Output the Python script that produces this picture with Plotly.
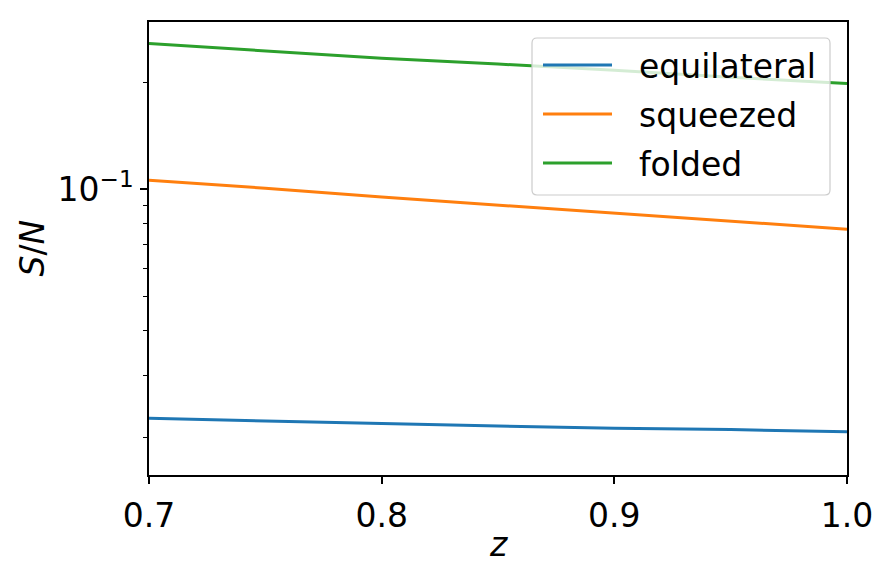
import plotly.graph_objects as go
import math

z = [0.70, 0.75, 0.80, 0.85, 0.90, 0.95, 1.00]
equilateral = [0.0227, 0.0223, 0.0219, 0.0216, 0.0213, 0.0211, 0.0208]
squeezed = [0.1060, 0.1006, 0.0950, 0.0902, 0.0856, 0.0812, 0.0772]
folded = [0.2566, 0.2442, 0.2335, 0.2248, 0.2160, 0.2064, 0.1980]

names = ["equilateral", "squeezed", "folded"]
colors = ["#1f77b4", "#ff7f0e", "#2ca02c"]
series = [equilateral, squeezed, folded]

x_ticks = [0.7, 0.8, 0.9, 1.0]
x_ticktext = ["0.7", "0.8", "0.9", "1.0"]
y_major = [0.1]
y_major_text = ["10<sup>\u22121</sup>"]
y_minor = [0.02, 0.03, 0.04, 0.05, 0.06, 0.07, 0.08, 0.09, 0.2]

FONT = "DejaVu Sans"
FS = 33
W, H = 889, 578
L, R, T, B = 149, 42, 22, 103
pw, ph = W - L - R, H - T - B

def px(xp):
    return (xp - L) / pw

def py(yp):
    return (H - B - yp) / ph

fig = go.Figure()
for name, col, vals in zip(names, colors, series):
    fig.add_trace(go.Scatter(x=z, y=vals, mode="lines", name=name,
                             line=dict(color=col, width=3), showlegend=False))

fig.update_layout(
    width=W, height=H,
    margin=dict(l=L, r=R, t=T, b=B),
    plot_bgcolor="white", paper_bgcolor="white",
    font=dict(family=FONT, size=FS, color="black"),
)
fig.update_xaxes(
    range=[0.7, 1.0], tickvals=x_ticks, ticktext=x_ticktext,
    showgrid=False, zeroline=False, showline=True, linecolor="black", linewidth=1.5,
    mirror=True, ticks="outside", ticklen=7, tickwidth=1.5, tickcolor="black",
    tickfont=dict(family=FONT, size=FS), ticklabelstandoff=4,
)
fig.update_yaxes(
    type="log", range=[math.log10(0.01573), math.log10(0.295)],
    tickvals=y_major, ticktext=y_major_text,
    showgrid=False, zeroline=False, showline=True, linecolor="black", linewidth=1.5,
    mirror=True, ticks="outside", ticklen=7, tickwidth=1.5, tickcolor="black",
    tickfont=dict(family=FONT, size=FS),
    minor=dict(tickvals=y_minor, ticks="outside", ticklen=4, tickwidth=1.2,
               tickcolor="black", showgrid=False),
)

# axis titles
fig.add_annotation(x=0.5, y=py(544), xref="paper", yref="paper", text="<i>z</i>",
                   showarrow=False, xanchor="center", yanchor="middle",
                   font=dict(family=FONT, size=FS))
fig.add_annotation(x=px(32), y=0.5, xref="paper", yref="paper", text="<i>S</i>/<i>N</i>",
                   showarrow=False, xanchor="center", yanchor="middle", textangle=-90,
                   font=dict(family=FONT, size=FS))

# legend box (rounded)
x0, x1 = px(532), px(830)
y0, y1 = py(195), py(38)
rx, ry = 5 / pw, 5 / ph
path = (f"M {x0+rx},{y0} L {x1-rx},{y0} Q {x1},{y0} {x1},{y0+ry} "
        f"L {x1},{y1-ry} Q {x1},{y1} {x1-rx},{y1} L {x0+rx},{y1} "
        f"Q {x0},{y1} {x0},{y1-ry} L {x0},{y0+ry} Q {x0},{y0} {x0+rx},{y0} Z")
fig.add_shape(type="path", path=path, xref="paper", yref="paper",
              fillcolor="rgba(255,255,255,0.8)", line=dict(color="#cccccc", width=1.2),
              layer="above")
rows = [65, 114, 163]
for name, col, ry_ in zip(names, colors, rows):
    fig.add_shape(type="line", xref="paper", yref="paper",
                  x0=px(543), x1=px(612), y0=py(ry_), y1=py(ry_),
                  line=dict(color=col, width=3), layer="above")
    fig.add_annotation(x=px(637), y=py(ry_ + 1), xref="paper", yref="paper", text=name,
                       showarrow=False, xanchor="left", yanchor="middle",
                       font=dict(family=FONT, size=FS))

fig.write_html("out.html")
